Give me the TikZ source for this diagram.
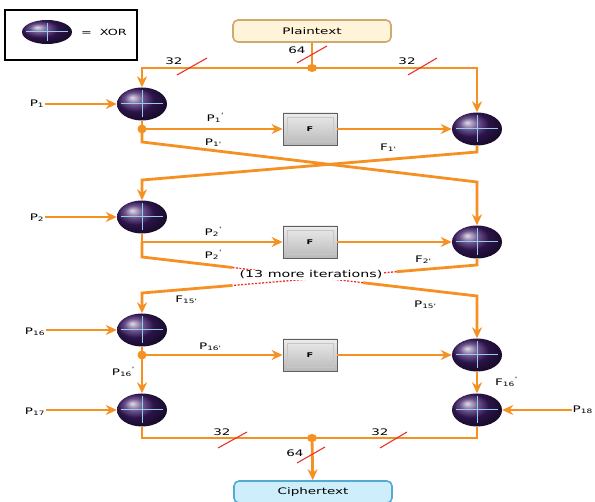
\documentclass[tikz,border=0pt]{standalone}
\usepackage{fontspec}
\setmainfont{DejaVu Sans}[FakeStretch=1.5]
\usetikzlibrary{shapes.geometric,arrows.meta,calc}
\definecolor{wireorange}{RGB}{245,145,35}
\definecolor{xorpurple}{RGB}{62,28,105}
\definecolor{crossblue}{RGB}{150,205,235}
\definecolor{slashred}{RGB}{235,50,40}
\definecolor{plainfill}{RGB}{255,244,218}
\definecolor{plaindraw}{RGB}{205,170,110}
\definecolor{ciphfill}{RGB}{205,238,250}
\definecolor{ciphdraw}{RGB}{85,170,210}
\newcommand\primemark{\textquotesingle}
\begin{document}
\begin{tikzpicture}[x=1pt,y=-1pt,
  wire/.style={draw=wireorange,line width=2.8pt},
  arr/.style={wire,-{Stealth[length=11pt,width=10pt]}},
  gap/.style={draw=slashred,line width=1.3pt,dash pattern=on 2pt off 1.5pt},
  slashmark/.style={draw=slashred,line width=1.1pt},
  xorb/.style={ellipse,minimum width=50pt,minimum height=33pt,inner sep=0pt,ball color=xorpurple,
    path picture={\draw[crossblue,line width=1pt]
      ([xshift=4pt]path picture bounding box.west) -- ([xshift=-4pt]path picture bounding box.east)
      ([yshift=-3pt]path picture bounding box.north) -- ([yshift=3pt]path picture bounding box.south);}},
  fbox/.style={rectangle,minimum width=54pt,minimum height=32pt,draw=gray!75!black,line width=0.8pt,
    top color=gray!15,bottom color=gray!55,font=\fontsize{6.5}{7}\selectfont\bfseries,
    path picture={\draw[gray!45,line width=0.8pt]
      ([shift={(4pt,-4pt)}]path picture bounding box.north west) rectangle
      ([shift={(-4pt,4pt)}]path picture bounding box.south east);}},
  textbox/.style={rectangle,rounded corners=5pt,line width=1.6pt,minimum width=158pt,minimum height=22pt,
    font=\fontsize{9}{10}\selectfont},
  lbl/.style={font=\fontsize{9}{10}\selectfont,inner sep=1pt},
  dot/.style={fill=wireorange}]
\useasboundingbox (0,0) rectangle (595,502);

\draw[line width=1.4pt] (5,10) rectangle (137,60);
\node[xorb,minimum height=24pt] (legx) at (47,32) {};
\node[font=\fontsize{8.5}{9}\selectfont] (legt) at (104,32) {=\ \ XOR};

\node[textbox,fill=plainfill,draw=plaindraw] (pt) at (312,31) {Plaintext};
\node[textbox,fill=ciphfill,draw=ciphdraw] (ct) at (313,492) {Ciphertext};

\node[xorb] (xl1) at (142,104) {};
\node[xorb] (xr1) at (477,129) {};
\node[xorb] (xl2) at (142,217) {};
\node[xorb] (xr2) at (477,242) {};
\node[xorb] (xl3) at (142,330) {};
\node[xorb] (xr3) at (477,355) {};
\node[xorb] (xl4) at (142,410) {};
\node[xorb] (xr4) at (477,410) {};

\node[fbox] (f1) at (310,129) {F};
\node[fbox] (f2) at (310,242) {F};
\node[fbox] (f3) at (310,355) {F};

\node[lbl] (p1) at (37,104) {P\textsubscript{1}};
\node[lbl] (p2) at (37,218) {P\textsubscript{2}};
\node[lbl] (p16) at (35,332) {P\textsubscript{16}};
\node[lbl] (p17) at (35,412) {P\textsubscript{17}};
\node[lbl,anchor=east] (p18) at (594,410) {P\textsubscript{18}};

\coordinate (jt) at (312,68);
\coordinate (jb) at (312,438);
\coordinate (d1) at (142,129);
\coordinate (d2) at (142,242);
\coordinate (d3) at (142,355);

% top split
\draw[wire] (pt) -- (jt);
\draw[arr] (jt) -| (xl1);
\draw[arr] (jt) -| (xr1);
\fill[dot] (jt) ellipse (5pt and 4pt);

% round 1
\draw[arr] (p1.east |- xl1) -- (xl1);
\draw[wire] (xl1) -- (d1);
\draw[arr] (d1) -- (f1);
\draw[arr] (f1) -- (xr1);
\draw[arr] (d1) -- (142,142) -- (477,182) -- (xr2);
\draw[arr] (xr1) -- (477,152) -- (142,180) -- (xl2);
\fill[dot] (d1) circle (4.5pt);

% round 2
\draw[arr] (p2.east |- xl2) -- (xl2);
\draw[wire] (xl2) -- (d2);
\draw[arr] (d2) -- (f2);
\draw[arr] (f2) -- (xr2);
\coordinate (a1) at (142,257);
\coordinate (a2) at (477,296);
\coordinate (b1) at (477,265);
\coordinate (b2) at (142,293);
\draw[wire] (d2) -- (a1) -- ($(a1)!0.27!(a2)$);
\draw[gap] ($(a1)!0.27!(a2)$) -- ($(a1)!0.66!(a2)$);
\draw[arr] ($(a1)!0.66!(a2)$) -- (a2) -- (xr3);
\draw[wire] (xr2) -- (b1) -- ($(b1)!0.24!(b2)$);
\draw[gap] ($(b1)!0.24!(b2)$) -- ($(b1)!0.73!(b2)$);
\draw[arr] ($(b1)!0.73!(b2)$) -- (b2) -- (xl3);
\node[fill=white,inner sep=1pt,font=\fontsize{9.5}{10}\selectfont] (more) at (311,275) {(13 more iterations)};

% round 16
\draw[arr] (p16.east |- xl3) -- (xl3);
\draw[wire] (xl3) -- (d3);
\draw[arr] (d3) -- (f3);
\draw[arr] (f3) -- (xr3);
\draw[arr] (d3) -- (xl4);
\draw[arr] (xr3) -- (xr4);
\fill[dot] (d3) circle (4.5pt);

% output
\draw[arr] (p17.east |- xl4) -- (xl4);
\draw[arr] (p18.west |- xr4) -- (xr4);
\draw[wire] (xl4) |- (jb);
\draw[wire] (xr4) |- (jb);
\draw[arr] (jb) -- (ct);
\fill[dot] (jb) ellipse (5pt and 4pt);

\node[lbl] (l1a) at (215,118) {P\textsubscript{1}\textsuperscript{\primemark}};
\node[lbl] (l1b) at (213,143) {P\textsubscript{1\primemark}};
\node[lbl] (l1c) at (388,148) {F\textsubscript{1\primemark}};
\node[lbl] (l2a) at (213,232) {P\textsubscript{2}\textsuperscript{\primemark}};
\node[lbl] (l2b) at (213,255) {P\textsubscript{2}\textsuperscript{\primemark}};
\node[lbl] (l2c) at (423,260) {F\textsubscript{2\primemark}};
\node[lbl] (l15a) at (186,300) {F\textsubscript{15\primemark}};
\node[lbl] (l15b) at (425,305) {P\textsubscript{15\primemark}};
\node[lbl] (l16a) at (210,347) {P\textsubscript{16\primemark}};
\node[lbl] (l16b) at (123,372) {P\textsubscript{16}\textsuperscript{\primemark}};
\node[lbl] (l16c) at (506,382) {F\textsubscript{16}\textsuperscript{\primemark}};

\node[lbl] (w1) at (174,61) {32};
\node[lbl] (w2) at (297,50) {64};
\node[lbl] (w3) at (407,61) {32};
\node[lbl] (w4) at (222,432) {32};
\node[lbl] (w5) at (380,432) {32};
\node[lbl] (w6) at (295,453) {64};
\draw[slashmark] (177,75) -- (207,58);
\draw[slashmark] (297,63) -- (327,46);
\draw[slashmark] (408,75) -- (437,58);
\draw[slashmark] (218,448) -- (247,432);
\draw[slashmark] (380,448) -- (407,432);
\draw[slashmark] (297,463) -- (325,447);
\end{tikzpicture}
\end{document}
